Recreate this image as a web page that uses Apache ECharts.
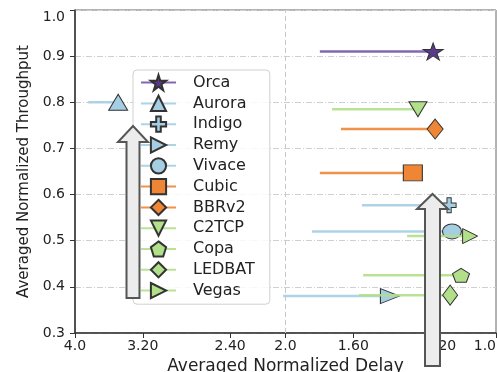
<!DOCTYPE html>
<html><head><meta charset="utf-8">
<script src="https://cdn.jsdelivr.net/npm/echarts@6/dist/echarts.min.js"></script>
<style>html,body{margin:0;padding:0;background:#fff}#c{width:497px;height:372px}</style>
</head><body><div id="c"></div>
<script>
// ---- data ----
const names = ['Orca','Aurora','Indigo','Remy','Vivace','Cubic','BBRv2','C2TCP','Copa','LEDBAT','Vegas'];
const delayStart = [1.786, 3.83, 1.555, 2.016, 1.833, 1.786, 1.666, 1.716, 1.549, 1.570, 1.340];
const delayEnd   = [1.230, 3.47, 1.167, 1.418, 1.156, 1.315, 1.222, 1.293, 1.122, 1.163, 1.089];
const throughput = [0.910, 0.800, 0.577, 0.380, 0.520, 0.647, 0.742, 0.785, 0.425, 0.382, 0.510];
const xTickValues = [4, 3.2, 2.4, 2, 1.6, 1.2, 1];
const xTickLabels = ['4.0', '3.20', '2.40', '2.0', '1.60', '1.20', '1.0'];
const yTickValues = [0.3, 0.4, 0.5, 0.6, 0.7, 0.8, 0.9, 1.0];

// ---- styles ----
const STAR = 'path://M50,0L61.17,34.63L97.55,34.55L68.07,55.87L79.39,90.45L50,69L20.61,90.45L31.93,55.87L2.45,34.55L38.83,34.63Z';
const PLUS = 'path://M35,0L65,0L65,35L100,35L100,65L65,65L65,100L35,100L35,65L0,65L0,35L35,35Z';
const PENT = 'path://M50,0L97.55,34.55L79.39,90.45L20.61,90.45L2.45,34.55Z';
const RTRI = 'path://M0,0L100,50L0,100Z';
const DTRI = 'path://M0,0L100,0L50,100Z';
const ELL  = 'path://M0,50A50,50,0,1,0,100,50A50,50,0,1,0,0,50Z';
const BLUE = '#a6cee3', GREEN = '#b2df8a', ORANGE = '#ef8636';
const styles = {
  Orca:   {sym: STAR, size: [20, 17], fill: '#5b3a8e', line: '#7656a8'},
  Aurora: {sym: 'triangle', size: [19, 16], fill: BLUE, line: BLUE},
  Indigo: {sym: PLUS, size: [14, 15], fill: BLUE, line: BLUE},
  Remy:   {sym: RTRI, size: [19, 15], fill: BLUE, line: BLUE},
  Vivace: {sym: ELL, size: [19, 15], fill: BLUE, line: BLUE},
  Cubic:  {sym: 'rect', size: [19, 16], fill: ORANGE, line: ORANGE},
  BBRv2:  {sym: 'diamond', size: [16, 20], fill: ORANGE, line: ORANGE},
  C2TCP:  {sym: DTRI, size: [18, 15], fill: GREEN, line: GREEN},
  Copa:   {sym: PENT, size: [17, 14], fill: GREEN, line: GREEN},
  LEDBAT: {sym: 'diamond', size: [15, 20], fill: GREEN, line: GREEN},
  Vegas:  {sym: RTRI, size: [15, 15], fill: GREEN, line: GREEN}
};
const FONT = 'DejaVu Sans';

const series = names.map((n, i) => {
  const s = styles[n];
  return {
    type: 'line', name: n,
    data: [
      {value: [delayStart[i], throughput[i]], symbol: 'none'},
      [delayEnd[i], throughput[i]]
    ],
    symbol: s.sym, symbolSize: s.size, showSymbol: true,
    lineStyle: {color: s.line, width: 2.5, opacity: 0.9},
    itemStyle: {color: s.fill, borderColor: '#333', borderWidth: 1},
    z: 3 + i, animation: false, silent: true,
    emphasis: {disabled: true},
    markLine: i === 0 ? {
      silent: true, symbol: 'none', label: {show: false},
      lineStyle: {color: '#c8c8c8', type: [5, 3], width: 1},
      data: [{xAxis: 2}], z: 1
    } : undefined
  };
});

function arrow(cx, tipY, headY, bottomY, shaftHalf, headHalf) {
  return {
    type: 'polygon', z: 100,
    shape: {points: [
      [cx - shaftHalf, bottomY], [cx - shaftHalf, headY], [cx - headHalf, headY],
      [cx, tipY], [cx + headHalf, headY], [cx + shaftHalf, headY], [cx + shaftHalf, bottomY]
    ]},
    style: {fill: '#ececec', stroke: '#555', lineWidth: 2}
  };
}

const chart = echarts.init(document.getElementById('c'), null, {renderer: 'canvas'});
chart.setOption({
  animation: false,
  textStyle: {fontFamily: FONT},
  grid: {left: 75, right: 1, top: 10, bottom: 39, show: true, borderColor: '#666', borderWidth: 1,
         containLabel: false, outerBoundsMode: 'none'},
  xAxis: {
    type: 'log', logBase: 10, min: 1, max: 4, inverse: true,
    name: 'Averaged Normalized Delay', nameLocation: 'middle', nameGap: 22,
    nameTextStyle: {fontSize: 17, color: '#222', fontFamily: FONT},
    axisLine: {show: true, lineStyle: {color: '#333', width: 1.5}},
    axisTick: {show: true, customValues: xTickValues, length: 5, lineStyle: {color: '#333'}},
    axisLabel: {
      customValues: xTickValues, fontSize: 14, color: '#222', margin: 6, fontFamily: FONT,
      alignMaxLabel: 'right',
      formatter: v => {
        let best = 0;
        xTickValues.forEach((t, k) => { if (Math.abs(t - v) < Math.abs(xTickValues[best] - v)) best = k; });
        return xTickLabels[best];
      }
    },
    splitLine: {show: false}, minorTick: {show: false}
  },
  yAxis: {
    type: 'value', min: 0.3, max: 1.0, interval: 0.1,
    name: 'Averaged Normalized Throughput', nameLocation: 'middle', nameGap: 42,
    nameTextStyle: {fontSize: 15, color: '#222', fontFamily: FONT},
    axisLine: {show: true, lineStyle: {color: '#333', width: 1.5}},
    axisTick: {show: true, length: 5, lineStyle: {color: '#333'}},
    axisLabel: {fontSize: 14, color: '#222', margin: 10, fontFamily: FONT,
                verticalAlignMaxLabel: 'top',
                formatter: v => v.toFixed(1)},
    splitLine: {show: true, lineStyle: {color: '#cfcfcf', type: [6, 2, 1, 2], width: 1}}
  },
  legend: {
    orient: 'vertical', left: 133, top: 70,
    padding: [4, 15, 5, 7],
    itemWidth: 35, itemHeight: 19, itemGap: 3.6,
    backgroundColor: 'rgba(255,255,255,0.85)', borderColor: '#d0d0d0', borderWidth: 1, borderRadius: 4,
    textStyle: {fontSize: 16, color: '#222', fontFamily: FONT, padding: [0, 0, 0, 12], lineHeight: 16},
    data: names, selectedMode: false, z: 50
  },
  graphic: [
    arrow(133, 126, 142, 298, 6.5, 15),
    arrow(432.5, 194, 209, 366, 7.5, 15.5)
  ],
  series: series
});
</script>
</body></html>
